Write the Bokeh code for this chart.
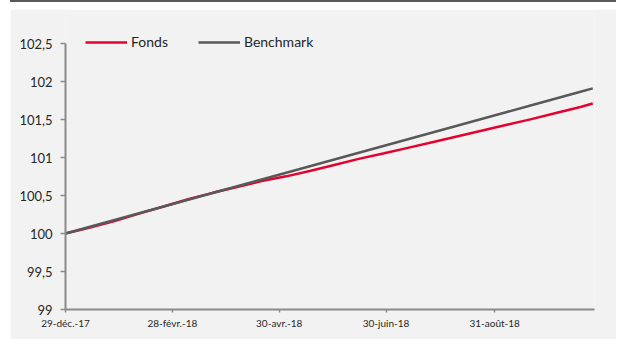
from datetime import datetime
from bokeh.plotting import figure
from bokeh.models import Range1d, FixedTicker, Legend, LegendItem
from bokeh.embed import file_html
from bokeh.resources import INLINE

dates = ["2017-12-29", "2018-01-12", "2018-01-26", "2018-02-09", "2018-02-23",
         "2018-03-09", "2018-03-23", "2018-04-06", "2018-04-20", "2018-05-04",
         "2018-05-18", "2018-06-01", "2018-06-15", "2018-06-29", "2018-07-13",
         "2018-07-27", "2018-08-10", "2018-08-24", "2018-09-07", "2018-09-21",
         "2018-10-05", "2018-10-19", "2018-10-26"]
fonds = [100.00, 100.080, 100.165, 100.262, 100.355, 100.450, 100.535, 100.612,
         100.690, 100.752, 100.825, 100.905, 100.985, 101.055, 101.130, 101.205,
         101.280, 101.355, 101.430, 101.505, 101.585, 101.665, 101.710]
benchmark = [100.00, 100.089, 100.178, 100.267, 100.355, 100.444, 100.533, 100.622,
             100.711, 100.800, 100.888, 100.977, 101.066, 101.155, 101.244, 101.333,
             101.421, 101.510, 101.599, 101.688, 101.777, 101.866, 101.910]

x_tick_dates = ["2017-12-29", "2018-02-28", "2018-04-30", "2018-06-30", "2018-08-31"]
x_tick_labels = ["29-déc.-17", "28-févr.-18", "30-avr.-18", "30-juin-18", "31-août-18"]
y_ticks = [99, 99.5, 100, 100.5, 101, 101.5, 102, 102.5]
y_tick_labels = ["99", "99,5", "100", "100,5", "101", "101,5", "102", "102,5"]

def ms(d):
    return datetime.strptime(d, "%Y-%m-%d").timestamp() * 1000.0

xs = [ms(d) for d in dates]
x_ticks = [ms(d) for d in x_tick_dates]

p = figure(width=606, height=330, x_axis_type="datetime", output_backend="svg",
           toolbar_location=None,
           x_range=Range1d(ms("2017-12-29"), ms("2018-10-27")),
           y_range=Range1d(99, 102.5 + 30 / 76),
           min_border_left=55, min_border_right=22, min_border_top=4, min_border_bottom=30)
p.styles = {"margin-left": "10px", "margin-top": "9px",
            "box-shadow": "0 -7px 0 0 #ffffff, 0 -9px 0 0 #595959"}
p.background_fill_color = "#f2f2f2"
p.border_fill_color = "#f2f2f2"
p.outline_line_color = None
p.grid.visible = False

font = "Lato"
p.xaxis.ticker = FixedTicker(ticks=x_ticks)
p.xaxis.major_label_overrides = {t: l for t, l in zip(x_ticks, x_tick_labels)}
p.yaxis.ticker = FixedTicker(ticks=y_ticks)
p.yaxis.major_label_overrides = {t: l for t, l in zip(y_ticks, y_tick_labels)}
p.yaxis.bounds = (99, 102.5)
for ax in (p.xaxis, p.yaxis):
    ax.axis_line_color = "#8a8a8a"
    ax.axis_line_width = 2
    ax.major_tick_line_color = "#8a8a8a"
    ax.major_tick_line_width = 1.5
    ax.minor_tick_line_color = None
    ax.major_tick_in = 0
    ax.major_label_text_font = font
    ax.major_label_text_color = "#262626"
p.xaxis.major_tick_out = 3
p.xaxis.major_label_text_font_size = "10px"
p.xaxis.major_label_standoff = 4
p.yaxis.major_tick_out = 5
p.yaxis.major_label_text_font_size = "13px"
p.yaxis.major_label_standoff = 8

r_f = p.line(xs, fonds, line_color="#e4032e", line_width=2.5)
r_b = p.line(xs, benchmark, line_color="#595959", line_width=2.5)

legend = Legend(items=[LegendItem(label="Fonds", renderers=[r_f]),
                       LegendItem(label="Benchmark", renderers=[r_b])],
                orientation="horizontal", location=(20, 259),
                background_fill_alpha=0, border_line_color=None,
                label_text_font=font, label_text_font_size="14px",
                label_text_color="#262626",
                glyph_width=42, glyph_height=16, label_standoff=4,
                spacing=30, padding=0, margin=0)
p.add_layout(legend, "center")

open("out.html", "w").write(file_html(p, INLINE))
